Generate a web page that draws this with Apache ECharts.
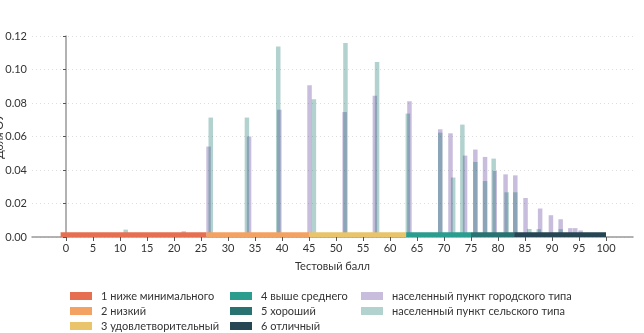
<!DOCTYPE html>
<html>
<head>
<meta charset="utf-8">
<script src="https://cdn.jsdelivr.net/npm/echarts@6/dist/echarts.min.js"></script>
<style>
html,body{margin:0;padding:0;background:#fff;}
#chart{width:644px;height:333px;}
</style>
</head>
<body>
<div id="chart"></div>
<script>
// ---- data ----
const levelNames = ['1 ниже минимального','2 низкий','3 удовлетворительный','4 выше среднего','5 хороший','6 отличный'];
const levelBounds = [-1, 26, 45, 63, 75, 83, 100];
const levelColors = ['#e76f51','#f4a261','#e9c46a','#2a9d8f','#287271','#264653'];

const urbanName = 'населенный пункт городского типа';
const ruralName = 'населенный пункт сельского типа';

const urbanScores = [21.8, 26.4, 33.9, 39.5, 45.1, 51.6, 57.2, 63.6, 69.3, 71.2, 73.9, 75.8, 77.6, 79.4, 81.4, 83.2, 85.1, 87.8, 89.8, 91.6, 93.4, 94.3, 95.3];
const urbanShares = [0.0034, 0.054, 0.060, 0.076, 0.0906, 0.0746, 0.0844, 0.081, 0.0643, 0.0619, 0.0486, 0.0522, 0.0478, 0.0394, 0.0374, 0.0368, 0.0233, 0.017, 0.013, 0.0106, 0.0053, 0.0053, 0.0039];

const ruralScores = [11.05, 26.8, 33.5, 39.3, 45.9, 51.75, 57.6, 63.3, 69.3, 71.7, 73.4, 75.8, 77.6, 79.2, 81.6, 83.2, 85.8, 87.55, 91.6];
const ruralShares = [0.0044, 0.0713, 0.0713, 0.1138, 0.0822, 0.1158, 0.1045, 0.0737, 0.0623, 0.0355, 0.0671, 0.0448, 0.0334, 0.0468, 0.0267, 0.0267, 0.0048, 0.0047, 0.0047];

const xTicks = [0,5,10,15,20,25,30,35,40,45,50,55,60,65,70,75,80,85,90,95,100];
const bandHeight = 0.0028;

// ---- chart ----
const FONT = 'Lato, "Open Sans", sans-serif';
const chart = echarts.init(document.getElementById('chart'), null, {renderer:'canvas'});

const series = [];
levelNames.forEach((name, i) => {
  series.push({
    name: name,
    type: 'custom',
    z: 5,
    itemStyle: {color: levelColors[i]},
    data: [[levelBounds[i], levelBounds[i+1], 0, bandHeight]],
    renderItem: function(params, api){
      const p0 = api.coord([api.value(0), api.value(2)]);
      const p1 = api.coord([api.value(1), api.value(3)]);
      return {
        type: 'rect',
        shape: {x: p0[0], y: p1[1], width: p1[0]-p0[0], height: p0[1]-p1[1]},
        style: {fill: levelColors[i]}
      };
    }
  });
});
series.push({
  name: urbanName,
  type: 'bar',
  barWidth: 4.5,
  barGap: '-100%',
  itemStyle: {color: 'rgba(72,38,138,0.3)'},
  data: urbanScores.map((x, i) => [x, urbanShares[i]])
});
series.push({
  name: ruralName,
  type: 'bar',
  barWidth: 4.5,
  barGap: '-100%',
  itemStyle: {color: 'rgba(0,105,95,0.3)'},
  data: ruralScores.map((x, i) => [x, ruralShares[i]])
});

const legendCommon = {
  orient: 'vertical',
  top: 289,
  height: 80,
  padding: 0,
  icon: 'rect',
  itemWidth: 22,
  itemHeight: 8,
  itemGap: 1,
  textStyle: {fontFamily: FONT, fontSize: 11, color: '#333', lineHeight: 14, padding: [0,0,0,4]}
};

chart.setOption({
  animation: false,
  textStyle: {fontFamily: FONT},
  grid: {left: 32, right: 11, top: 36, bottom: 96, containLabel: false, outerBoundsMode: 'none'},
  legend: [
    Object.assign({left: 70, data: levelNames.slice(0,3)}, legendCommon),
    Object.assign({left: 230, data: levelNames.slice(3,6)}, legendCommon),
    Object.assign({left: 361, data: [urbanName, ruralName]}, legendCommon)
  ],
  xAxis: {
    type: 'value',
    min: -6.3,
    max: 105,
    name: 'Тестовый балл',
    nameLocation: 'middle',
    nameGap: 24,
    nameMoveOverlap: false,
    nameTextStyle: {fontFamily: FONT, fontSize: 11, color: '#333'},
    axisLine: {show: true, lineStyle: {color: '#999', width: 1.5}},
    axisTick: {show: true, length: 4, lineStyle: {color: '#555'}, customValues: xTicks},
    axisLabel: {fontFamily: FONT, fontSize: 11, color: '#333', margin: 6, customValues: xTicks},
    splitLine: {show: false}
  },
  yAxis: {
    type: 'value',
    min: 0,
    max: 0.12,
    interval: 0.02,
    name: 'Доля ОУ',
    nameLocation: 'middle',
    nameRotate: 90,
    nameGap: 27.5,
    nameMoveOverlap: false,
    nameTextStyle: {fontFamily: FONT, fontSize: 11, color: '#333'},
    axisLine: {show: true, lineStyle: {color: '#999', width: 1.5}},
    axisTick: {show: true, length: 3, lineStyle: {color: '#555'}},
    axisLabel: {fontFamily: FONT, fontSize: 11, color: '#333', margin: 5, formatter: v => v.toFixed(2)},
    splitLine: {show: true, lineStyle: {color: '#ddd', type: [1,3], width: 1}}
  },
  series: series
});
</script>
</body>
</html>
